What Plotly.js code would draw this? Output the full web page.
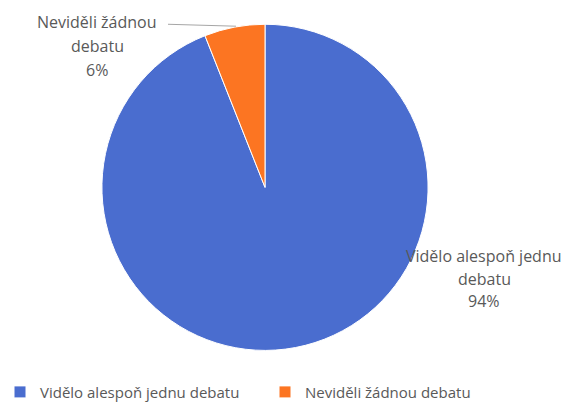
<!DOCTYPE html>
<html>
<head>
<meta charset="utf-8">
<script src="https://cdn.plot.ly/plotly-3.0.1.min.js"></script>
<style>html,body{margin:0;padding:0;background:#fff}#chart{width:584px;height:409px}</style>
</head>
<body>
<div id="chart"></div>
<script>
const categories = ["Vidělo alespoň jednu debatu", "Neviděli žádnou debatu"];
const values = [94, 6];
const colors = ["#4A6DCF", "#FC7522"];
// data-label lines, split as in the reference
const labelLines = [
  ["Vidělo alespoň jednu", "debatu", "94%"],
  ["Neviděli žádnou", "debatu", "6%"]
];

const W = 584, H = 409;
const px = x => x / W, py = y => 1 - y / H;
const labelPos = [ {x: 484, y: [264, 287, 310]}, {x: 97, y: [23, 47, 72]} ];
const family = "Open Sans, Noto Sans, sans-serif";
const font = {family: family, size: 16, color: "#595959"};

const annotations = [];
labelLines.forEach((lines, i) => {
  lines.forEach((t, j) => {
    annotations.push({
      text: t, x: px(labelPos[i].x), y: py(labelPos[i].y[j]),
      xref: "paper", yref: "paper", xanchor: "center", yanchor: "middle",
      showarrow: false, font: font
    });
  });
});

const cx = 265, cy = 193, r = 168;
const data = [{
  type: "pie",
  labels: categories,
  values: values,
  marker: {colors: colors, line: {color: "#ffffff", width: 1}},
  sort: false,
  direction: "clockwise",
  rotation: 0,
  textinfo: "none",
  hoverinfo: "label+percent",
  domain: {x: [px(cx - r), px(cx + r)], y: [py(cy + r), py(cy - r)]}
}];

const layout = {
  width: W, height: H,
  margin: {l: 0, r: 0, t: 0, b: 0},
  paper_bgcolor: "#ffffff",
  showlegend: true,
  legend: {
    orientation: "h", x: 0, xanchor: "left", y: py(387), yanchor: "top",
    font: {family: family, size: 15, color: "#595959"},
    itemwidth: 30, tracegroupgap: 0, entrywidth: 220, entrywidthmode: "pixels"
  },
  annotations: annotations,
  shapes: [{
    type: "line", xref: "paper", yref: "paper",
    x0: px(168), y0: py(25), x1: px(236), y1: py(27),
    line: {color: "#a6a6a6", width: 1}
  }]
};

Plotly.newPlot("chart", data, layout, {displayModeBar: false, staticPlot: true});
</script>
</body>
</html>
